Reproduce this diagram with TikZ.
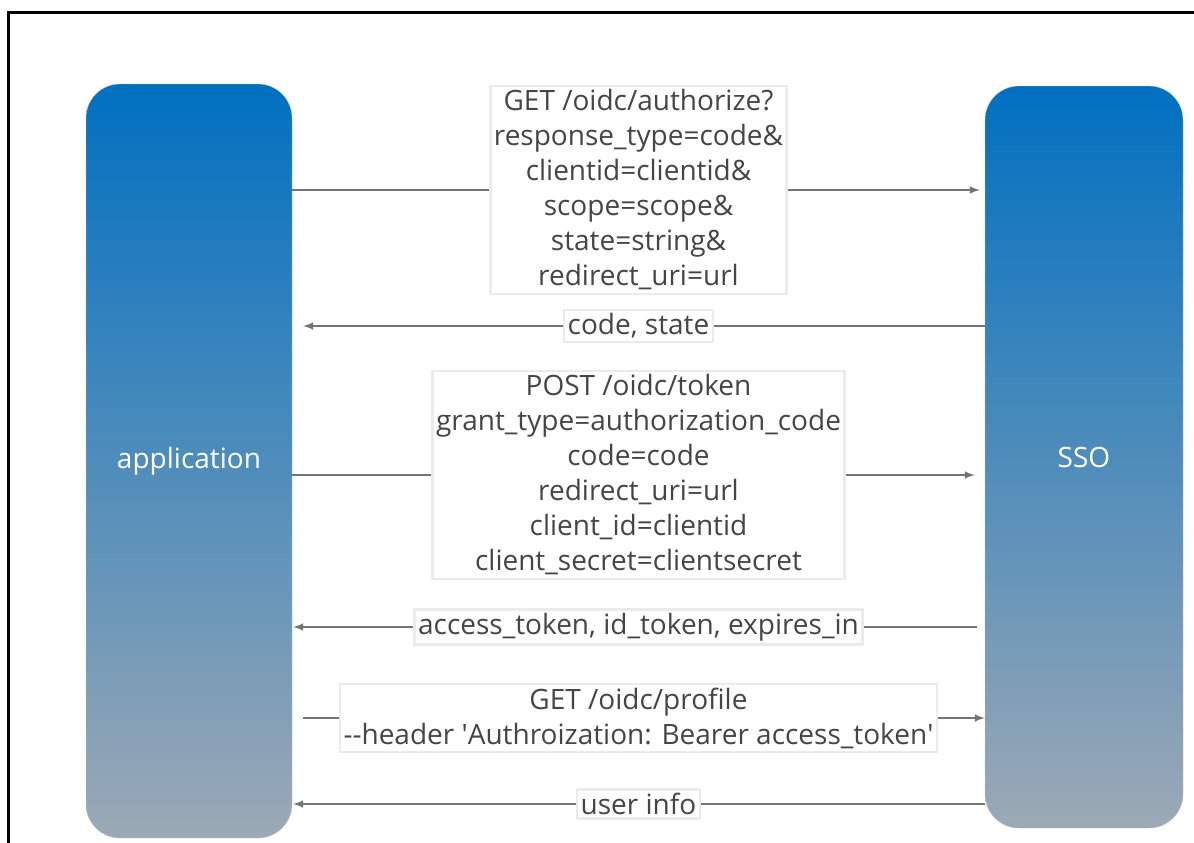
\documentclass[tikz,border=0pt]{standalone}
\usepackage{fontspec}
\setmainfont{Open Sans}
\usetikzlibrary{arrows}
\definecolor{boxtop}{HTML}{0070C0}
\definecolor{boxbottom}{HTML}{9DA9B5}
\definecolor{msggray}{HTML}{747474}
\definecolor{textgray}{HTML}{454545}

\begin{document}
\begin{tikzpicture}[x=1pt,y=-1pt,>=latex,
        party/.style={rectangle,rounded corners=34pt,minimum width=206pt,minimum height=754pt,
          top color=boxtop,bottom color=boxbottom,draw=black!25,text=white,
          font=\fontsize{28}{32}\selectfont},
        msg/.style={->,draw=msggray,line width=2.4pt},
        msg label/.style={fill=white,draw=black!8,text=textgray,align=center,inner sep=3.5pt,
          font=\fontsize{28}{35}\selectfont}]
        \useasboundingbox (0,0) rectangle (1194,843);
        \draw[line width=3pt] (8,843) -- (8,13) -- (1194,13);
        \node[party]                                             (app) at (189,461)  {application};
        \node[party,minimum width=198pt,minimum height=742pt]   (sso) at (1084,457) {SSO};
        \path
          (app.east |- 0,190) edge[msg,shorten >=5pt] node[msg label]
            {GET /oidc/authorize?\\response\_type=code\&\\clientid=clientid\&\\scope=scope\&\\state=string\&\\redirect\_uri=url}
            (sso.west |- 0,190)
          (sso.west |- 0,326) edge[msg,shorten >=11pt] node[msg label] {code, state} (app.east |- 0,326)
          (app.east |- 0,475) edge[msg,shorten >=10pt] node[msg label]
            {POST /oidc/token\\grant\_type=authorization\_code\\code=code\\redirect\_uri=url\\client\_id=clientid\\client\_secret=clientsecret}
            (sso.west |- 0,475)
          (sso.west |- 0,627) edge[msg,shorten <=8pt,shorten >=1pt] node[msg label]
            {access\_token, id\_token, expires\_in} (app.east |- 0,627)
          (app.east |- 0,718) edge[msg,shorten <=11pt] node[msg label]
            {GET /oidc/profile\\-{}-header \textquotesingle Authroization: Bearer access\_token\textquotesingle}
            (sso.west |- 0,718)
          (sso.west |- 0,804) edge[msg,shorten >=1pt] node[msg label] {user info} (app.east |- 0,804);
\end{tikzpicture}
\end{document}
